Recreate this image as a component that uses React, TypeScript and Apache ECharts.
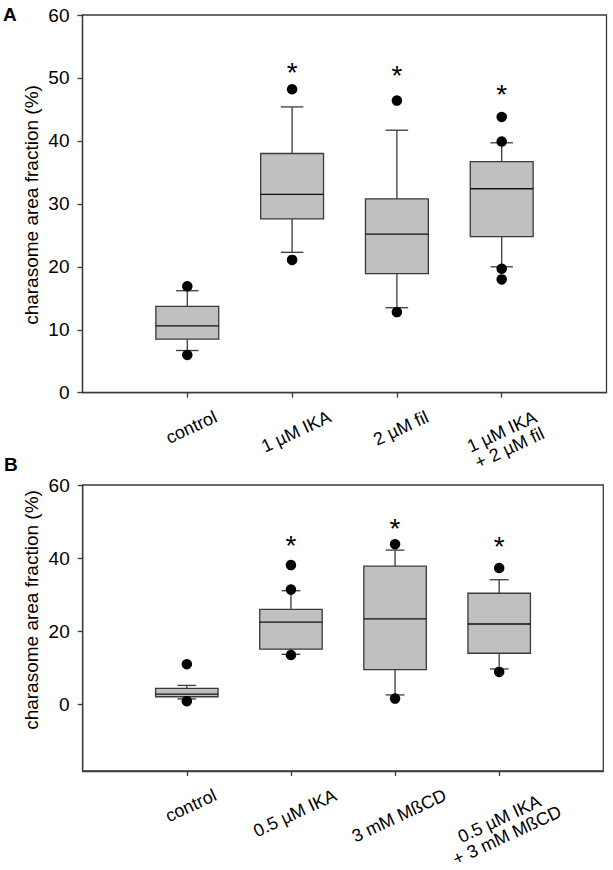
import React, { useEffect, useRef } from 'react';
import * as echarts from 'echarts';

const FONT = '"Liberation Sans", Arial, Helvetica, sans-serif';

// ---------- data ----------
const categoriesA = ['control', '1 µM IKA', '2 µM fil', '1 µM IKA\n+ 2 µM fil'];
const categoriesB = ['control', '0.5 µM IKA', '3 mM MßCD', '0.5 µM IKA\n+ 3 mM MßCD'];

// [lower whisker, Q1, median, Q3, upper whisker]
const boxesA = [
  [6.7, 8.5, 10.6, 13.7, 16.2],
  [22.3, 27.6, 31.5, 38.0, 45.4],
  [13.5, 18.9, 25.2, 30.8, 41.7],
  [20.0, 24.8, 32.4, 36.7, 39.7],
];
const outliersA = [
  [16.9, 6.0],
  [48.2, 21.1],
  [46.4, 12.8],
  [43.8, 39.9, 19.7, 18.0],
];
const starsA = [null, 51.8, 51.4, 48.4];

const boxesB = [
  [1.5, 2.1, 2.8, 4.4, 5.2],
  [13.7, 15.1, 22.5, 26.0, 31.1],
  [2.6, 9.5, 23.4, 37.8, 42.2],
  [9.7, 14.0, 22.0, 30.4, 34.1],
];
const outliersB = [
  [11.0, 0.9],
  [38.1, 31.4, 13.5],
  [43.8, 1.6],
  [37.3, 8.9],
];
const starsB = [null, 45.0, 49.8, 44.8];

const yTicksA = [0, 10, 20, 30, 40, 50, 60];
const yTicksB = [0, 20, 40, 60];
const yRangeA = [0, 60];
const yRangeB = [-18.2, 60];
const yTitle = 'charasome area fraction (%)';

// ---------- styles ----------
const LINE = '#3a3a3a';
const BOX_FILL = '#c0c0c0';
const TICK_FONT = 19;
const LABEL_FONT = 18;
const LABEL_LH = 18;
const ROT = (25 * Math.PI) / 180;

function makeBoxRenderer(boxW: number, capW: number) {
  return (params: any, api: any) => {
    const x = api.value(0);
    const lo = api.coord([x, api.value(1)]);
    const q1 = api.coord([x, api.value(2)]);
    const med = api.coord([x, api.value(3)]);
    const q3 = api.coord([x, api.value(4)]);
    const hi = api.coord([x, api.value(5)]);
    const bw = api.size([boxW, 0])[0];
    const cw = api.size([capW, 0])[0];
    const cx = lo[0];
    const ls = { stroke: LINE, lineWidth: 1.3 };
    return {
      type: 'group',
      children: [
        { type: 'line', shape: { x1: cx, y1: lo[1], x2: cx, y2: q1[1] }, style: ls },
        { type: 'line', shape: { x1: cx, y1: q3[1], x2: cx, y2: hi[1] }, style: ls },
        { type: 'line', shape: { x1: cx - cw / 2, y1: lo[1], x2: cx + cw / 2, y2: lo[1] }, style: ls },
        { type: 'line', shape: { x1: cx - cw / 2, y1: hi[1], x2: cx + cw / 2, y2: hi[1] }, style: ls },
        {
          type: 'rect',
          shape: { x: cx - bw / 2, y: q3[1], width: bw, height: q1[1] - q3[1] },
          style: { fill: BOX_FILL, stroke: LINE, lineWidth: 1.3 },
        },
        { type: 'line', shape: { x1: cx - bw / 2, y1: med[1], x2: cx + bw / 2, y2: med[1] }, style: { stroke: '#111', lineWidth: 1.3 } },
      ],
    };
  };
}

const renderStar = (params: any, api: any) => {
  const p = api.coord([api.value(0), api.value(1)]);
  return {
    type: 'text',
    x: p[0],
    y: p[1] + 6,
    style: {
      text: '*',
      fontSize: 28,
      fontFamily: FONT,
      fill: '#000',
      align: 'center',
      verticalAlign: 'middle',
      textAlign: 'center',
      textVerticalAlign: 'middle',
    },
  };
};

function panelSeries(
  gi: number,
  boxes: number[][],
  outliers: number[][],
  stars: (number | null)[],
  boxW: number,
  capW: number
) {
  const boxData = boxes.map((b, i) => [i + 1, ...b]);
  const outData: number[][] = [];
  outliers.forEach((arr, i) => arr.forEach((v) => outData.push([i + 1, v])));
  const starData: number[][] = [];
  stars.forEach((v, i) => {
    if (v != null) starData.push([i + 1, v]);
  });
  return [
    {
      type: 'custom',
      xAxisIndex: gi,
      yAxisIndex: gi,
      data: boxData,
      encode: { x: 0, y: [1, 2, 3, 4, 5] },
      renderItem: makeBoxRenderer(boxW, capW),
      z: 2,
    },
    {
      type: 'scatter',
      xAxisIndex: gi,
      yAxisIndex: gi,
      data: outData,
      symbol: 'circle',
      symbolSize: 10.5,
      itemStyle: { color: '#000', opacity: 1 },
      z: 3,
    },
    {
      type: 'custom',
      xAxisIndex: gi,
      yAxisIndex: gi,
      data: starData,
      encode: { x: 0, y: 1 },
      renderItem: renderStar,
      z: 4,
    },
  ];
}

function xAxisCfg(gi: number) {
  return {
    type: 'value',
    gridIndex: gi,
    min: 0,
    max: 5,
    axisLine: { show: true, onZero: false, lineStyle: { color: LINE, width: 1.3 } },
    axisTick: { show: true, customValues: [1, 2, 3, 4], length: 5, inside: false, lineStyle: { color: LINE, width: 1.3 } },
    axisLabel: { show: false },
    splitLine: { show: false },
  };
}

function yAxisCfg(gi: number, range: number[], ticks: number[]) {
  return {
    type: 'value',
    gridIndex: gi,
    min: range[0],
    max: range[1],
    axisLine: { show: true, onZero: false, lineStyle: { color: LINE, width: 1.3 } },
    axisTick: { show: true, customValues: ticks, length: 5, inside: false, lineStyle: { color: LINE, width: 1.3 } },
    axisLabel: {
      show: true,
      customValues: ticks,
      margin: 13,
      color: '#000',
      fontSize: TICK_FONT,
      fontFamily: FONT,
    },
    splitLine: { show: false },
  };
}

export default function App() {
  const ref = useRef<HTMLDivElement>(null);

  useEffect(() => {
    document.body.style.margin = '0';
    if (!ref.current) return;
    const chart = echarts.init(ref.current, undefined, { renderer: 'svg' });

    const option: any = {
      animation: false,
      backgroundColor: '#fff',
      grid: [
        { left: 82.5, top: 15, width: 524, height: 377.7, show: true, borderColor: LINE, borderWidth: 1.3, backgroundColor: 'transparent' },
        { left: 82.7, top: 485, width: 520.6, height: 286, show: true, borderColor: LINE, borderWidth: 1.3, backgroundColor: 'transparent' },
      ],
      xAxis: [xAxisCfg(0), xAxisCfg(1)],
      yAxis: [yAxisCfg(0, yRangeA, yTicksA), yAxisCfg(1, yRangeB, yTicksB)],
      series: [
        ...panelSeries(0, boxesA, outliersA, starsA, 0.6, 0.215),
        ...panelSeries(1, boxesB, outliersB, starsB, 0.6, 0.18),
      ],
    };
    chart.setOption(option);

    // category labels, rotated, placed under the axis ticks
    const canvas = document.createElement('canvas');
    const ctx = canvas.getContext('2d') as CanvasRenderingContext2D;
    ctx.font = `${LABEL_FONT}px ${FONT}`;
    const graphics: any[] = [];
    const panels: [string[], number, number][] = [
      [categoriesA, 0, yRangeA[0]],
      [categoriesB, 1, yRangeB[0]],
    ];
    panels.forEach(([cats, gi, ymin]) => {
      const axisY = chart.convertToPixel({ yAxisIndex: gi } as any, ymin) as unknown as number;
      cats.forEach((c, i) => {
        const x = chart.convertToPixel({ xAxisIndex: gi } as any, i + 1) as unknown as number;
        const lines = c.split('\n');
        const w = Math.max(...lines.map((l) => ctx.measureText(l).width));
        const h = lines.length * LABEL_LH;
        const bboxH = w * Math.sin(ROT) + h * Math.cos(ROT);
        graphics.push({
          type: 'text',
          x: x + 4,
          y: axisY + 15 + bboxH / 2,
          rotation: ROT,
          style: {
            text: c,
            fontSize: LABEL_FONT,
            fontFamily: FONT,
            fill: '#000',
            lineHeight: LABEL_LH,
            align: 'center',
            verticalAlign: 'middle',
            textAlign: 'center',
            textVerticalAlign: 'middle',
          },
        });
      });
    });

    const titleStyle = {
      text: yTitle,
      fontSize: 19,
      fontFamily: FONT,
      fill: '#000',
      align: 'center',
      verticalAlign: 'middle',
      textAlign: 'center',
      textVerticalAlign: 'middle',
    };
    graphics.push({ type: 'text', x: 31, y: 205, rotation: Math.PI / 2, style: { ...titleStyle } });
    graphics.push({ type: 'text', x: 31, y: 610, rotation: Math.PI / 2, style: { ...titleStyle } });
    graphics.push({
      type: 'text',
      left: 3,
      top: 5,
      style: { text: 'A', fontSize: 19, fontWeight: 'bold', fontFamily: FONT, fill: '#000' },
    });
    graphics.push({
      type: 'text',
      left: 4,
      top: 455,
      style: { text: 'B', fontSize: 19, fontWeight: 'bold', fontFamily: FONT, fill: '#000' },
    });

    chart.setOption({ graphic: graphics });

    return () => {
      chart.dispose();
    };
  }, []);

  return <div ref={ref} style={{ width: 613, height: 870 }} />;
}
